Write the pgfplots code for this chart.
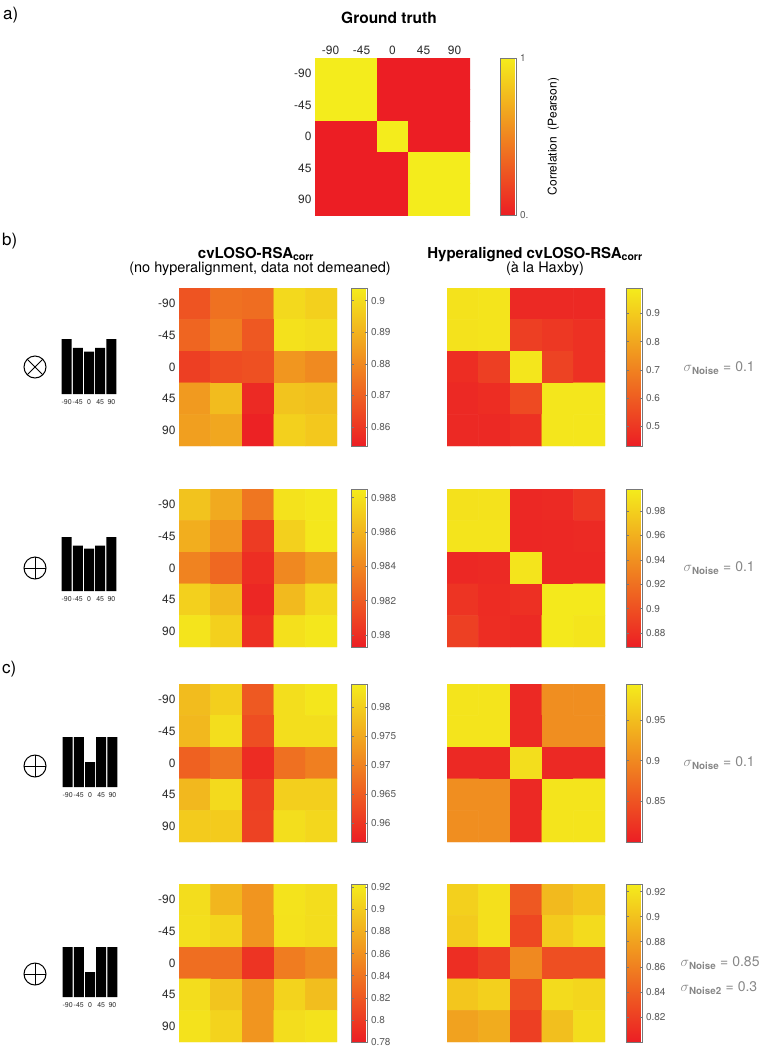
\documentclass[border=0pt]{standalone}
\usepackage{pgfplots}
\pgfplotsset{compat=1.18}
\usepackage{fontspec}
\setmainfont{TeX Gyre Heros}
\definecolor{tk}{RGB}{45,45,45}
\definecolor{cbt}{RGB}{90,90,90}
\definecolor{sig}{RGB}{135,135,135}
\definecolor{cbframe}{RGB}{120,120,120}
\newcommand{\fs}[1]{\fontsize{#1}{#1}\selectfont}
\pgfplotsset{
  colormap={aut}{rgb255=(236,30,36) rgb255=(244,236,28)},
  hm/.style={
    anchor=north west, width=158pt, height=158pt, scale only axis,
    xmin=-0.5, xmax=4.5, ymin=-0.5, ymax=4.5, y dir=reverse,
    axis line style={draw=none}, major tick style={draw=none},
    xtick=\empty, ytick={0,1,2,3,4},
    yticklabels={-90,-45,0,45,90},
    yticklabel style={font=\fs{12}, text=tk},
    colormap name=aut,
    colorbar,
    colorbar style={
      at={(parent axis.north east)}, anchor=north west, xshift=6pt,
      width=16pt, y dir=normal,
      axis line style={draw=cbframe, line width=0.8pt},
      yticklabel style={font=\fs{10}, text=cbt},
      ytick align=inside, major tick length=2.5pt,
      major tick style={draw=cbframe, line width=0.5pt},
    },
  },
  hmR/.style={hm, ytick=\empty, colorbar style={xshift=7pt}},
  bars/.style={
    anchor=north west, width=56pt, scale only axis,
    xmin=-0.5, xmax=4.5, ymin=0, ymax=1,
    ybar, bar width=10pt,
    axis line style={draw=none}, major tick style={draw=none},
    ytick=\empty, xtick={0,1,2,3,4}, xticklabels={-90,-45,0,45,90},
    xticklabel style={font=\fs{7}, text=tk, inner sep=1pt},
  },
}
\begin{document}
\begin{tikzpicture}
\path[use as bounding box] (0pt,0pt) rectangle (765pt,-1050pt);

% ---------- section labels ----------
\node[font=\fs{17}, anchor=base west, inner sep=0pt] at (3pt,-19pt) {a)};
\node[font=\fs{17}, anchor=base west, inner sep=0pt] at (2pt,-245pt) {b)};
\node[font=\fs{17}, anchor=base west, inner sep=0pt] at (2pt,-673pt) {c)};

% ---------- a) ground truth ----------
\node[font=\fs{15.5}\bfseries, anchor=base] at (389pt,-23pt) {Ground truth};
\begin{axis}[hm, at={(315pt,-58pt)}, width=155pt, height=157pt,
  xtick={0,1,2,3,4}, xticklabels={-90,-45,0,45,90}, xticklabel pos=top,
  xticklabel style={font=\fs{12}, text=tk},
  point meta min=0, point meta max=1,
  colorbar style={xshift=16pt, width=16pt, ytick={0,1}, yticklabels={0.,1},
    ylabel={Correlation\ \ (Pearson)},
    ylabel style={font=\fs{12}, text=black, at={(axis description cs:3.31,0.5)}, anchor=center}}]
\addplot[matrix plot*, mesh/cols=5, point meta=explicit] coordinates {
(0,0)[1] (1,0)[1] (2,0)[0] (3,0)[0] (4,0)[0]
(0,1)[1] (1,1)[1] (2,1)[0] (3,1)[0] (4,1)[0]
(0,2)[0] (1,2)[0] (2,2)[1] (3,2)[0] (4,2)[0]
(0,3)[0] (1,3)[0] (2,3)[0] (3,3)[1] (4,3)[1]
(0,4)[0] (1,4)[0] (2,4)[0] (3,4)[1] (4,4)[1]
};
\end{axis}

% ---------- column headers ----------
\node[font=\fs{15}\bfseries, anchor=base] at (256pt,-258pt) {cvLOSO-RSA\textsubscript{corr}};
\node[font=\fs{14.5}, anchor=base] at (260pt,-272pt) {(no hyperalignment, data not demeaned)};
\node[font=\fs{15}\bfseries, anchor=base] at (535pt,-258pt) {Hyperaligned cvLOSO-RSA\textsubscript{corr}};
\node[font=\fs{14.5}, anchor=base] at (545pt,-272pt) {(à la Haxby)};

% ---------- b1 ----------
\begin{axis}[hm, at={(179pt,-288pt)}, point meta min=0.854, point meta max=0.904,
  colorbar style={ytick={0.86,0.87,0.88,0.89,0.9}, yticklabels={0.86,0.87,0.88,0.89,0.9}}]
\addplot[matrix plot*, mesh/cols=5, point meta=explicit] coordinates {
(0,0)[0.867] (1,0)[0.874] (2,0)[0.873] (3,0)[0.899] (4,0)[0.897]
(0,1)[0.871] (1,1)[0.877] (2,1)[0.868] (3,1)[0.901] (4,1)[0.900]
(0,2)[0.862] (1,2)[0.865] (2,2)[0.866] (3,2)[0.883] (4,2)[0.880]
(0,3)[0.884] (1,3)[0.892] (2,3)[0.857] (3,3)[0.894] (4,3)[0.893]
(0,4)[0.885] (1,4)[0.887] (2,4)[0.855] (3,4)[0.897] (4,4)[0.895]
};
\end{axis}
\begin{axis}[hmR, at={(447pt,-288pt)}, point meta min=0.43, point meta max=0.99,
  colorbar style={ytick={0.5,0.6,0.7,0.8,0.9}, yticklabels={0.5,0.6,0.7,0.8,0.9}}]
\addplot[matrix plot*, mesh/cols=5, point meta=explicit] coordinates {
(0,0)[0.96] (1,0)[0.965] (2,0)[0.46] (3,0)[0.46] (4,0)[0.46]
(0,1)[0.96] (1,1)[0.965] (2,1)[0.52] (3,1)[0.50] (4,1)[0.48]
(0,2)[0.47] (1,2)[0.52] (2,2)[0.97] (3,2)[0.53] (4,2)[0.48]
(0,3)[0.46] (1,3)[0.47] (2,3)[0.55] (3,3)[0.97] (4,3)[0.97]
(0,4)[0.46] (1,4)[0.46] (2,4)[0.48] (3,4)[0.97] (4,4)[0.97]
};
\end{axis}
\begin{axis}[bars, at={(61pt,-339pt)}, height=55pt]
\addplot[fill=black, draw=none] coordinates {(0,1) (1,0.84) (2,0.77) (3,0.84) (4,1)};
\end{axis}
\draw[line width=1pt] (35pt,-367pt) circle (11pt);
\draw[line width=1pt] (35pt,-367pt) ++(45:11pt) -- ++(225:22pt);
\draw[line width=1pt] (35pt,-367pt) ++(135:11pt) -- ++(315:22pt);
\node[text=sig, font=\fs{14}, anchor=west] at (680pt,-368pt) {$\sigma$\textsubscript{\textbf{Noise}} = 0.1};

% ---------- b2 ----------
\begin{axis}[hm, at={(179pt,-489pt)}, point meta min=0.9793, point meta max=0.9885,
  colorbar style={ytick={0.98,0.982,0.984,0.986,0.988}, yticklabels={0.98,0.982,0.984,0.986,0.988}}]
\addplot[matrix plot*, mesh/cols=5, point meta=explicit] coordinates {
(0,0)[0.9866] (1,0)[0.9855] (2,0)[0.9832] (3,0)[0.9880] (4,0)[0.9882]
(0,1)[0.9857] (1,1)[0.9846] (2,1)[0.9806] (3,1)[0.9872] (4,1)[0.9882]
(0,2)[0.9838] (1,2)[0.9826] (2,2)[0.9800] (3,2)[0.9840] (4,2)[0.9850]
(0,3)[0.9872] (1,3)[0.9862] (2,3)[0.9797] (3,3)[0.9862] (4,3)[0.9876]
(0,4)[0.9881] (1,4)[0.9872] (2,4)[0.9801] (3,4)[0.9879] (4,4)[0.9882]
};
\end{axis}
\begin{axis}[hmR, at={(447pt,-489pt)}, point meta min=0.8685, point meta max=0.998,
  colorbar style={ytick={0.88,0.9,0.92,0.94,0.96,0.98}, yticklabels={0.88,0.9,0.92,0.94,0.96,0.98}}]
\addplot[matrix plot*, mesh/cols=5, point meta=explicit] coordinates {
(0,0)[0.990] (1,0)[0.991] (2,0)[0.875] (3,0)[0.876] (4,0)[0.884]
(0,1)[0.992] (1,1)[0.992] (2,1)[0.874] (3,1)[0.875] (4,1)[0.876]
(0,2)[0.875] (1,2)[0.876] (2,2)[0.992] (3,2)[0.875] (4,2)[0.875]
(0,3)[0.882] (1,3)[0.877] (2,3)[0.880] (3,3)[0.995] (4,3)[0.995]
(0,4)[0.890] (1,4)[0.878] (2,4)[0.876] (3,4)[0.995] (4,4)[0.993]
};
\end{axis}
\begin{axis}[bars, at={(61pt,-537pt)}, height=54pt]
\addplot[fill=black, draw=none] coordinates {(0,1) (1,0.84) (2,0.785) (3,0.84) (4,1)};
\end{axis}
\draw[line width=1pt] (35pt,-568pt) circle (11pt);
\draw[line width=1pt] (24pt,-568pt) -- (46pt,-568pt);
\draw[line width=1pt] (35pt,-557pt) -- (35pt,-579pt);
\node[text=sig, font=\fs{14}, anchor=west] at (680pt,-568pt) {$\sigma$\textsubscript{\textbf{Noise}} = 0.1};

% ---------- c1 ----------
\begin{axis}[hm, at={(179pt,-684pt)}, point meta min=0.9567, point meta max=0.984,
  colorbar style={ytick={0.96,0.965,0.97,0.975,0.98}, yticklabels={0.96,0.965,0.97,0.975,0.98}}]
\addplot[matrix plot*, mesh/cols=5, point meta=explicit] coordinates {
(0,0)[0.9775] (1,0)[0.9800] (2,0)[0.9645] (3,0)[0.9820] (4,0)[0.9830]
(0,1)[0.9770] (1,1)[0.9820] (2,1)[0.9630] (3,1)[0.9820] (4,1)[0.9820]
(0,2)[0.9655] (1,2)[0.9680] (2,2)[0.9585] (3,2)[0.9675] (4,2)[0.9695]
(0,3)[0.9770] (1,3)[0.9815] (2,3)[0.9610] (3,3)[0.9800] (4,3)[0.9800]
(0,4)[0.9795] (1,4)[0.9795] (2,4)[0.9615] (3,4)[0.9820] (4,4)[0.9810]
};
\end{axis}
\begin{axis}[hmR, at={(447pt,-684pt)}, point meta min=0.80, point meta max=0.994,
  colorbar style={ytick={0.85,0.9,0.95}, yticklabels={0.85,0.9,0.95}}]
\addplot[matrix plot*, mesh/cols=5, point meta=explicit] coordinates {
(0,0)[0.985] (1,0)[0.985] (2,0)[0.81] (3,0)[0.905] (4,0)[0.905]
(0,1)[0.985] (1,1)[0.985] (2,1)[0.81] (3,1)[0.905] (4,1)[0.905]
(0,2)[0.81] (1,2)[0.81] (2,2)[0.98] (3,2)[0.81] (4,2)[0.81]
(0,3)[0.905] (1,3)[0.905] (2,3)[0.81] (3,3)[0.985] (4,3)[0.985]
(0,4)[0.905] (1,4)[0.905] (2,4)[0.81] (3,4)[0.985] (4,4)[0.985]
};
\end{axis}
\begin{axis}[bars, at={(62pt,-737pt)}, height=50pt]
\addplot[fill=black, draw=none] coordinates {(0,1) (1,1) (2,0.5) (3,1) (4,1)};
\end{axis}
\draw[line width=1pt] (35pt,-766pt) circle (11pt);
\draw[line width=1pt] (24pt,-766pt) -- (46pt,-766pt);
\draw[line width=1pt] (35pt,-755pt) -- (35pt,-777pt);
\node[text=sig, font=\fs{14}, anchor=west] at (680pt,-763pt) {$\sigma$\textsubscript{\textbf{Noise}} = 0.1};

% ---------- c2 ----------
\begin{axis}[hm, at={(179pt,-884pt)}, point meta min=0.78, point meta max=0.923,
  colorbar style={ytick={0.78,0.8,0.82,0.84,0.86,0.88,0.9,0.92}, yticklabels={0.78,0.8,0.82,0.84,0.86,0.88,0.9,0.92}}]
\addplot[matrix plot*, mesh/cols=5, point meta=explicit] coordinates {
(0,0)[0.912] (1,0)[0.885] (2,0)[0.862] (3,0)[0.916] (4,0)[0.912]
(0,1)[0.913] (1,1)[0.907] (2,1)[0.862] (3,1)[0.915] (4,1)[0.912]
(0,2)[0.835] (1,2)[0.835] (2,2)[0.795] (3,2)[0.845] (4,2)[0.855]
(0,3)[0.912] (1,3)[0.895] (2,3)[0.862] (3,3)[0.905] (4,3)[0.890]
(0,4)[0.915] (1,4)[0.905] (2,4)[0.862] (3,4)[0.912] (4,4)[0.915]
};
\end{axis}
\begin{axis}[hmR, at={(447pt,-884pt)}, point meta min=0.80, point meta max=0.926,
  colorbar style={ytick={0.82,0.84,0.86,0.88,0.9,0.92}, yticklabels={0.82,0.84,0.86,0.88,0.9,0.92}}]
\addplot[matrix plot*, mesh/cols=5, point meta=explicit] coordinates {
(0,0)[0.908] (1,0)[0.918] (2,0)[0.835] (3,0)[0.895] (4,0)[0.902]
(0,1)[0.905] (1,1)[0.918] (2,1)[0.825] (3,1)[0.905] (4,1)[0.915]
(0,2)[0.810] (1,2)[0.820] (2,2)[0.865] (3,2)[0.830] (4,2)[0.830]
(0,3)[0.902] (1,3)[0.908] (2,3)[0.830] (3,3)[0.915] (4,3)[0.912]
(0,4)[0.880] (1,4)[0.886] (2,4)[0.820] (3,4)[0.898] (4,4)[0.916]
};
\end{axis}
\begin{axis}[bars, at={(62pt,-947pt)}, height=50pt]
\addplot[fill=black, draw=none] coordinates {(0,1) (1,1) (2,0.5) (3,1) (4,1)};
\end{axis}
\draw[line width=1pt] (35pt,-974pt) circle (11pt);
\draw[line width=1pt] (24pt,-974pt) -- (46pt,-974pt);
\draw[line width=1pt] (35pt,-963pt) -- (35pt,-985pt);
\node[text=sig, font=\fs{14}, anchor=west] at (677pt,-963pt) {$\sigma$\textsubscript{\textbf{Noise}} = 0.85};
\node[text=sig, font=\fs{14}, anchor=west] at (677pt,-988pt) {$\sigma$\textsubscript{\textbf{Noise2}} = 0.3};
\end{tikzpicture}
\end{document}
